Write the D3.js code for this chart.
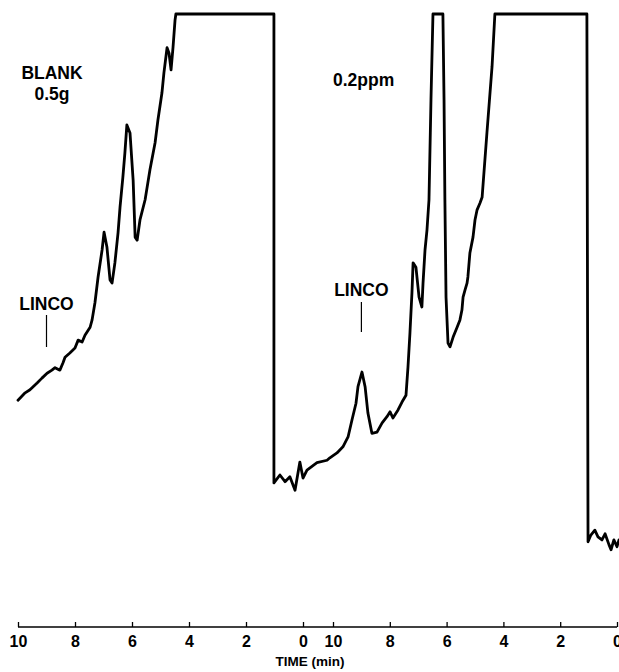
<!DOCTYPE html>
<html>
<head>
<meta charset="utf-8">
<script src="https://cdn.jsdelivr.net/npm/d3@7"></script>
<style>
  body { margin: 0; background: #fff; }
  svg { display: block; }
</style>
</head>
<body>
<svg id="chart" width="619" height="672"></svg>
<script>
// =========================
// DADES (llegides del cromatograma)
// =========================

// Run 1: BLANK 0.5g (minuts, senyal en % de fons d'escala)
const blankTime = [10.00, 9.75, 9.58, 9.33, 9.16, 8.98, 8.81, 8.70, 8.53, 8.42, 8.35, 8.18, 8.00, 7.89, 7.75, 7.65,
  7.47, 7.40, 7.30, 7.19, 7.05, 6.98, 6.88, 6.77, 6.70, 6.60, 6.49, 6.42, 6.32, 6.25, 6.18, 6.07, 5.96, 5.89, 5.82,
  5.72, 5.54, 5.37, 5.19, 5.09, 4.95, 4.88, 4.77, 4.70, 4.63, 4.56, 4.49, 4.46, 1.02, 1.02, 0.81, 0.63, 0.46, 0.28,
  0.11, 0.00, -0.14, -0.49];
const blankSignal = [37.0, 38.2, 38.7, 39.8, 40.6, 41.4, 41.9, 42.3, 41.9, 43.1, 44.0, 44.7, 45.5, 46.8, 46.5, 47.6,
  48.9, 50.1, 52.9, 57.1, 61.5, 64.4, 62.0, 56.6, 56.1, 59.4, 64.3, 68.5, 73.4, 77.3, 81.9, 80.6, 72.9, 63.6, 63.1,
  66.4, 69.7, 74.6, 79.0, 82.7, 87.1, 90.4, 94.5, 93.6, 90.9, 94.6, 99.0, 100, 100, 23.5, 24.8, 23.7, 24.5, 22.3,
  26.9, 24.3, 25.6, 26.8];

// Run 2: 0.2ppm
const spikeTime = [10.21, 10.11, 9.86, 9.65, 9.47, 9.33, 9.19, 9.12, 8.98, 8.87, 8.77, 8.63, 8.45, 8.27, 8.10, 7.99,
  7.89, 7.71, 7.57, 7.43, 7.36, 7.29, 7.22, 7.18, 7.08, 6.97, 6.87, 6.83, 6.76, 6.69, 6.62, 6.55, 6.48, 6.13, 6.09,
  6.06, 6.02, 5.95, 5.88, 5.77, 5.63, 5.53, 5.46, 5.42, 5.35, 5.28, 5.25, 5.18, 5.07, 5.00, 4.93, 4.82, 4.75, 4.58,
  4.40, 4.30, 1.06, 1.02, 0.92, 0.78, 0.67, 0.53, 0.42, 0.28, 0.21, 0.11, 0.00, -0.07];
const spikeSignal = [27.2, 27.6, 28.4, 29.4, 31.0, 33.8, 36.5, 39.2, 41.6, 39.2, 34.9, 31.6, 31.8, 33.3, 34.3, 35.1,
  34.1, 35.4, 36.7, 37.8, 42.4, 48.0, 54.5, 59.4, 58.7, 53.8, 52.2, 56.1, 61.5, 64.8, 69.7, 86.0, 100, 100, 86.0,
  69.7, 53.8, 46.3, 45.7, 47.3, 48.9, 50.1, 51.7, 53.8, 55.0, 56.1, 57.1, 61.0, 63.6, 66.4, 68.0, 69.2, 70.1, 80.6,
  91.4, 100, 100, 13.9, 15.0, 15.8, 14.7, 14.2, 15.2, 13.4, 12.6, 14.2, 13.1, 14.2];

const tickMinutes = [10, 8, 6, 4, 2, 0];
const lincoTime = 9;
const axisTitle = "TIME (min)";


// =========================
// ESCALES
// =========================

const svg = d3.select("#chart");
const baseY = 627;

const x1 = d3.scaleLinear().domain([10, 0]).range([18, 303]);
const x2 = d3.scaleLinear().domain([10, 0]).range([333, 617]);
const y = d3.scaleLinear().domain([0, 100]).range([baseY, 14]);

const toPoints = (times, values, xs) =>
  d3.range(Math.min(times.length, values.length)).map(i => [xs(times[i]), y(values[i])]);

const trace = toPoints(blankTime, blankSignal, x1)
  .concat(toPoints(spikeTime, spikeSignal, x2));


// =========================
// TRAÇA
// =========================

svg.append("path")
  .datum(trace)
  .attr("d", d3.line())
  .attr("fill", "none")
  .attr("stroke", "#000")
  .attr("stroke-width", 2.8)
  .attr("stroke-linejoin", "round")
  .attr("stroke-linecap", "round");


// =========================
// EIX DE TEMPS
// =========================

svg.append("line")
  .attr("x1", x1(10))
  .attr("x2", x2(0))
  .attr("y1", baseY)
  .attr("y2", baseY)
  .attr("stroke", "#000")
  .attr("stroke-width", 1.6);

[x1, x2].forEach(xs => {
  const g = svg.append("g")
    .attr("transform", `translate(0, ${baseY})`)
    .call(d3.axisBottom(xs)
      .tickValues(tickMinutes)
      .tickFormat(d3.format("d"))
      .tickSizeInner(-5)
      .tickSizeOuter(0)
      .tickPadding(8.5));

  g.select(".domain").remove();
  g.selectAll(".tick line").attr("stroke", "#000").attr("stroke-width", 1.3);
  g.selectAll(".tick text")
    .attr("fill", "#000")
    .style("font-family", "'Liberation Sans', Arial, sans-serif")
    .style("font-size", "16px")
    .style("font-weight", "bold");
});

svg.append("text")
  .attr("x", 310)
  .attr("y", 666)
  .attr("text-anchor", "middle")
  .text(axisTitle)
  .style("font-family", "'Liberation Sans', Arial, sans-serif")
  .style("font-size", "13.5px")
  .style("font-weight", "bold");


// =========================
// ETIQUETES
// =========================

const label = (xPos, yPos, text, anchor = "middle") =>
  svg.append("text")
    .attr("x", xPos)
    .attr("y", yPos)
    .attr("text-anchor", anchor)
    .text(text)
    .style("font-family", "'Liberation Sans', Arial, sans-serif")
    .style("font-size", "17.5px")
    .style("font-weight", "bold");

label(52, 79, "BLANK");
label(52, 100, "0.5g");
label(333, 86, "0.2ppm", "start");

// marques LINCO
[[x1, 310, 315, 347], [x2, 296, 302, 332]].forEach(([xs, textY, top, bottom]) => {
  label(xs(lincoTime), textY, "LINCO");
  svg.append("line")
    .attr("x1", xs(lincoTime))
    .attr("x2", xs(lincoTime))
    .attr("y1", top)
    .attr("y2", bottom)
    .attr("stroke", "#000")
    .attr("stroke-width", 1.2);
});
</script>
</body>
</html>
